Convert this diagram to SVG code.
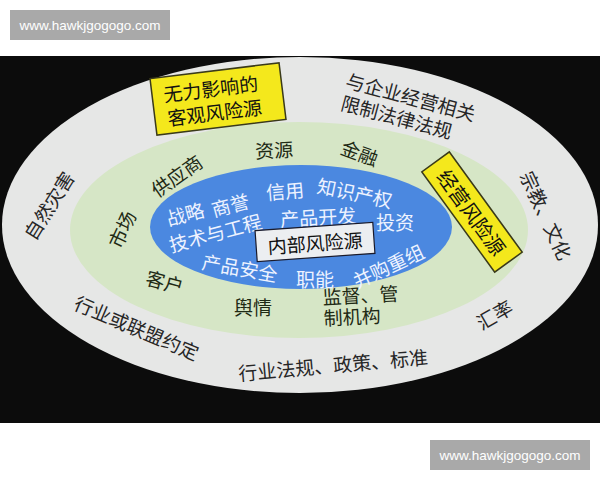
<svg xmlns="http://www.w3.org/2000/svg" width="600" height="480" viewBox="0 0 600 480">
<style>
text{font-family:"Noto Sans CJK SC","Liberation Sans",sans-serif;text-anchor:middle;dominant-baseline:central}
.o{font-size:19px;fill:#262626}
.g{font-size:19px;fill:#1e2a14}
.b{font-size:19px;fill:#eef3ff}
.k{font-size:19px;fill:#111}
.ybox{fill:#f4e81c;stroke:#3a3a1a;stroke-width:1.5}
.wm{fill:#a9a9a9}
.wmt{font-family:"Liberation Sans",Arial,sans-serif;font-size:13.5px;fill:#fff}
</style>
<rect width="600" height="480" fill="#fff"/>
<rect x="0" y="56" width="600" height="367" fill="#0c0c0c"/>
<g id="outer">
<ellipse cx="300" cy="225" rx="298" ry="168" fill="#e6e7e6"/>
<text class="o" transform="translate(48,205) rotate(-58)">自然灾害</text>
<text class="o" transform="translate(411,96) rotate(15)">与企业经营相关</text>
<text class="o" transform="translate(397,116) rotate(15)">限制法律法规</text>
<text class="o" transform="translate(137,327) rotate(23)">行业或联盟约定</text>
<text class="o" transform="translate(333,364) rotate(-5)">行业法规、政策、标准</text>
<text class="o" transform="translate(494,314) rotate(-30)">汇率</text>
<text class="o" transform="translate(547,215) rotate(65)">宗教、文化</text>
</g>
<g id="middle">
<ellipse cx="299" cy="230" rx="229" ry="108" fill="#d6e6c6"/>
<text class="g" transform="translate(274,149) rotate(-3)">资源</text>
<text class="g" transform="translate(360,152) rotate(20)">金融</text>
<text class="g" transform="translate(176,175) rotate(-35)">供应商</text>
<text class="g" transform="translate(121,229) rotate(-65)">市场</text>
<text class="g" transform="translate(165,281) rotate(15)">客户</text>
<text class="g" transform="translate(253,306)">舆情</text>
<g transform="rotate(-3 323 306)">
<text class="g" x="323" y="296" style="text-anchor:start">监督、管</text>
<text class="g" x="323" y="317" style="text-anchor:start">制机构</text>
</g>
</g>
<g id="inner">
<ellipse cx="301" cy="227" rx="151" ry="62" fill="#4b88e0"/>
<text class="b" transform="translate(185,213) rotate(-15)">战略</text>
<text class="b" transform="translate(230,204) rotate(-15)">商誉</text>
<text class="b" transform="translate(215,232) rotate(-15)">技术与工程</text>
<text class="b" transform="translate(285,190) rotate(-5)">信用</text>
<text class="b" transform="translate(355,192) rotate(12)">知识产权</text>
<text class="b" transform="translate(318,216) rotate(-3)">产品开发</text>
<text class="b" transform="translate(395,221)">投资</text>
<text class="b" transform="translate(240,267) rotate(10)">产品安全</text>
<text class="b" transform="translate(315,278)">职能</text>
<text class="b" transform="translate(388,265) rotate(-25)">并购重组</text>
</g>
<g id="internal-label" transform="translate(315,242) rotate(-4)">
<rect x="-59" y="-15.5" width="118" height="31" fill="#eceef1" stroke="#1a1a2a" stroke-width="1.2"/>
<text class="k" x="0" y="0">内部风险源</text>
</g>
<g id="objective-label" transform="translate(218,99) rotate(-7)">
<rect class="ybox" x="-65" y="-28.5" width="130" height="57"/>
<text class="k" x="-6" y="-12">无力影响的</text>
<text class="k" x="-5" y="12">客观风险源</text>
</g>
<g id="operating-label" transform="translate(472,212) rotate(54)">
<rect class="ybox" x="-62" y="-17" width="124" height="34"/>
<text class="k" x="0" y="0" style="font-size:20px">经营风险源</text>
</g>
<g id="connectors"></g>
<g id="watermark-top">
<rect class="wm" x="10" y="10" width="160" height="30"/>
<text class="wmt" x="90" y="25">www.hawkjgogogo.com</text>
</g>
<g id="watermark-bottom">
<rect class="wm" x="430" y="440" width="160" height="30"/>
<text class="wmt" x="510" y="455">www.hawkjgogogo.com</text>
</g>
</svg>
